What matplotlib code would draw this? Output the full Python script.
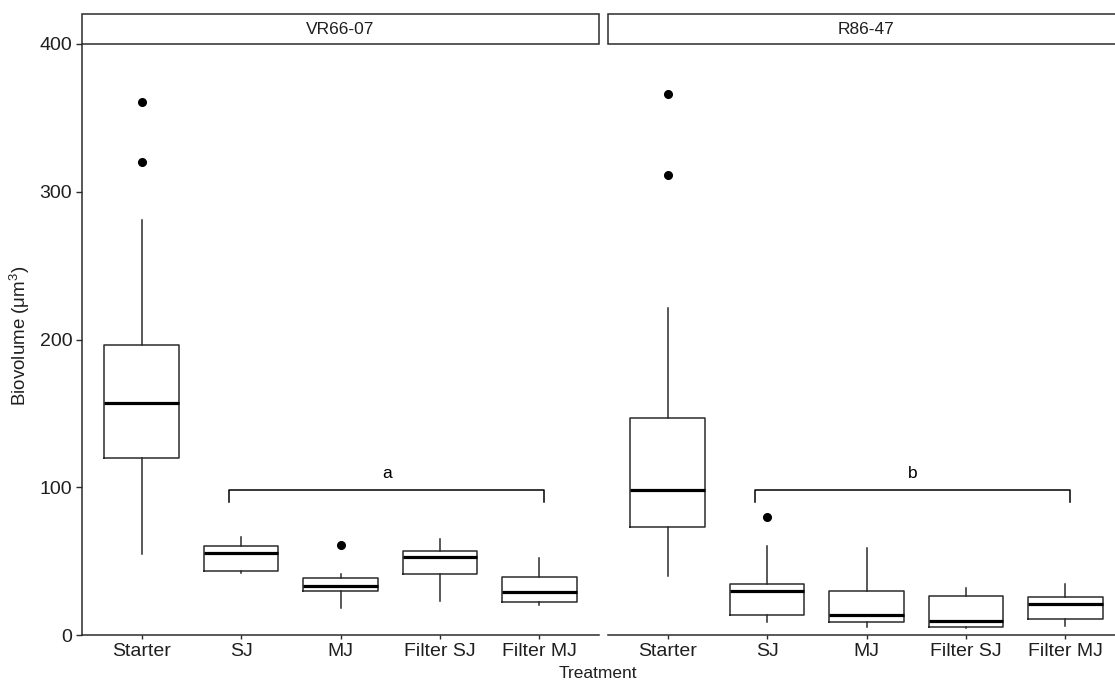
import matplotlib
matplotlib.use("Agg")
import matplotlib.pyplot as plt
from matplotlib.patches import Rectangle

plt.rcParams["font.family"] = ["Liberation Sans", "DejaVu Sans"]
plt.rcParams["mathtext.fontset"] = "custom"
plt.rcParams["mathtext.rm"] = "Liberation Sans"
plt.rcParams["mathtext.it"] = "Liberation Sans:italic"

treatments = ["Starter", "SJ", "MJ", "Filter SJ", "Filter MJ"]
strains = ["VR66-07", "R86-47"]

# box stats: whislo, q1, med, q3, whishi, outliers
vr_whislo = [55, 42, 18, 23, 20]
vr_q1 = [120, 43.5, 29.5, 41, 22]
vr_med = [157, 55.5, 33.5, 52.5, 29]
vr_q3 = [196, 60, 38.5, 57, 39.5]
vr_whishi = [281, 66, 41, 65, 52]
vr_out = [[361, 320], [], [61], [], []]

r_whislo = [40, 8.5, 5.5, 4.5, 6]
r_q1 = [73, 13.5, 9, 5.5, 11]
r_med = [98, 29.5, 13.5, 9.5, 21]
r_q3 = [147, 34.5, 29.5, 26.5, 26]
r_whishi = [221, 60, 59, 32, 34.5]
r_out = [[366, 311], [80], [], [], []]

letters = ["a", "b"]

W, H = 1115, 681
fig = plt.figure(figsize=(W / 100, H / 100), dpi=100)

ax_l = fig.add_axes([82 / W, (H - 635) / H, 517 / W, 591 / H])
ax_r = fig.add_axes([608 / W, (H - 635) / H, 517 / W, 591 / H])

panels = [
    (ax_l, vr_whislo, vr_q1, vr_med, vr_q3, vr_whishi, vr_out),
    (ax_r, r_whislo, r_q1, r_med, r_q3, r_whishi, r_out),
]

dark = "#2b2b2b"
txt = "#1f1f1f"
for i, (ax, wlo, q1, med, q3, whi, outl) in enumerate(panels):
    stats = []
    for j in range(len(treatments)):
        stats.append(dict(whislo=wlo[j], q1=q1[j], med=med[j], q3=q3[j],
                          whishi=whi[j], fliers=outl[j]))
    ax.bxp(stats, positions=range(1, 6), widths=0.75, showcaps=False,
           boxprops=dict(color=dark, linewidth=1.1),
           whiskerprops=dict(color=dark, linewidth=1.1),
           medianprops=dict(color="black", linewidth=2.3),
           flierprops=dict(marker="o", markerfacecolor="black",
                           markeredgecolor="black", markersize=5.5))
    ax.set_xlim(0.4, 5.6)
    ax.set_ylim(0, 400)
    ax.set_xticks(range(1, 6))
    ax.set_xticklabels(treatments, fontsize=14, color=txt)
    ax.tick_params(axis="x", length=3, width=1.0, color=dark, pad=3)
    for s in ["top", "right"]:
        ax.spines[s].set_visible(False)
    ax.spines["bottom"].set_color(dark)
    ax.spines["bottom"].set_linewidth(1.1)

    # significance bracket
    ax.plot([1.88, 1.88, 5.05, 5.05], [90, 98, 98, 90], color="black", lw=1.1)
    ax.text(3.47, 104, letters[i], ha="center", va="bottom", fontsize=12.5)

    # strip header
    pos = ax.get_position()
    strip = Rectangle((pos.x0, (H - 44) / H), pos.width, 30 / H,
                      transform=fig.transFigure, facecolor="white",
                      edgecolor=dark, linewidth=1.1, clip_on=False)
    fig.patches.append(strip)
    cx = pos.x0 + (517 / W) / 2
    fig.text(cx, (H - 29) / H, strains[i], ha="center", va="center",
             fontsize=12.5, color=txt)

ax_l.set_yticks([0, 100, 200, 300, 400])
ax_l.tick_params(axis="y", length=4, width=1.0, color=dark, pad=3,
                 labelsize=14, labelcolor=txt)
ax_l.spines["left"].set_color(dark)
ax_l.spines["left"].set_linewidth(1.1)

ax_r.spines["left"].set_visible(False)
ax_r.set_yticks([])

fig.text(598 / W, (H - 673) / H, "Treatment", ha="center", va="center",
         fontsize=12.5, color=txt)
fig.text(20 / W, (H - 336) / H, "Biovolume (μm$^{3}$)", ha="center",
         va="center", rotation=90, fontsize=13.5, color=txt)

fig.savefig("out.png", dpi=100, facecolor="white")
